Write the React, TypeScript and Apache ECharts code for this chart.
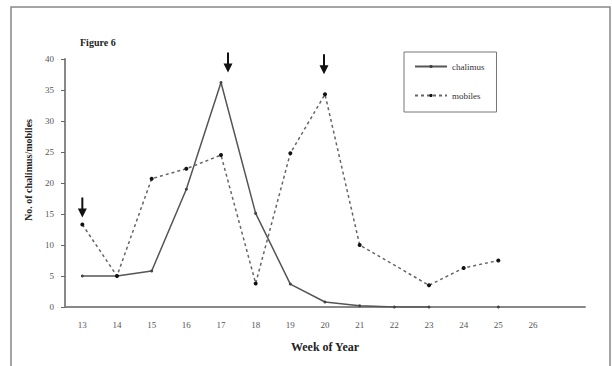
import React, { useEffect, useRef } from "react";
import * as echarts from "echarts";

// Week of year (last slot left blank to extend the axis)
const weeks = ["13", "14", "15", "16", "17", "18", "19", "20", "21", "22", "23", "24", "25", "26", ""];
// Counts per week
const chalimus = [5, 5, 5.8, 19, 36.2, 15.1, 3.7, 0.8, 0.2, 0, 0, null, 0, null, null];
const mobiles = [13.3, 5, 20.7, 22.3, 24.5, 3.8, 24.8, 34.3, 10, null, 3.5, 6.3, 7.5, null, null];
// Peaks marked with arrows: [week, series, dx, dy]
const arrowMarks: [string, "chalimus" | "mobiles", number, number][] = [
  ["13", "mobiles", 0, -17],
  ["17", "chalimus", 7, -20],
  ["20", "mobiles", -1, -30],
];

const FONT = "'Liberation Serif', 'Times New Roman', serif";
const ARROW = "path://M3,0 L5,0 L5,11 L8.5,11 L4,20 L-0.5,11 L3,11 Z";

function arrowsFor(name: "chalimus" | "mobiles") {
  const src = name === "chalimus" ? chalimus : mobiles;
  return arrowMarks
    .filter((a) => a[1] === name)
    .map(([wk, , dx, dy]) => ({
      coord: [wk, src[weeks.indexOf(wk)]],
      symbol: ARROW,
      symbolSize: [9, 20],
      symbolOffset: [dx, dy],
      itemStyle: { color: "#111" },
      label: { show: false },
    }));
}

export default function App() {
  const ref = useRef<HTMLDivElement>(null);
  useEffect(() => {
    if (!ref.current) return;
    const chart = echarts.init(ref.current, null, { renderer: "svg" });
    chart.setOption({
      animation: false,
      backgroundColor: "#fff",
      textStyle: { fontFamily: FONT },
      title: {
        text: "Figure 6",
        left: 75,
        top: 32,
        textStyle: { fontFamily: FONT, fontSize: 10, fontWeight: "bold", color: "#222" },
      },
      legend: {
        orient: "vertical",
        left: 404,
        top: 52,
        padding: [10, 12, 12, 10],
        itemWidth: 32,
        itemHeight: 4,
        itemGap: 20,
        borderColor: "#777",
        borderWidth: 1,
        textStyle: { fontFamily: FONT, fontSize: 9, color: "#333" },
        data: ["chalimus", "mobiles"],
      },
      grid: { left: 65, top: 59, right: 27, bottom: 59 },
      xAxis: {
        type: "category",
        data: weeks,
        boundaryGap: true,
        name: "Week of Year",
        nameLocation: "middle",
        nameGap: 34,
        nameTextStyle: { fontFamily: FONT, fontSize: 12, fontWeight: "bold", color: "#222" },
        axisLine: { lineStyle: { color: "#888", width: 2 } },
        axisTick: { length: 4, lineStyle: { color: "#666", width: 1 } },
        axisLabel: { fontFamily: FONT, fontSize: 9, color: "#555", margin: 13 },
      },
      yAxis: {
        type: "value",
        min: 0,
        max: 40,
        interval: 5,
        splitLine: { show: false },
        axisLine: { show: true, lineStyle: { color: "#888", width: 2 } },
        axisTick: { show: true, length: 4, lineStyle: { color: "#666", width: 1 } },
        axisLabel: { fontFamily: FONT, fontSize: 9, color: "#555", margin: 11 },
      },
      graphic: [
        {
          type: "polyline",
          shape: { points: [[11, 366], [11, 7], [610, 7], [610, 366]] },
          style: { fill: "none", stroke: "#888", lineWidth: 1.5 },
          silent: true,
        },
        {
          type: "text",
          x: 28,
          y: 170,
          rotation: Math.PI / 2,
          style: {
            text: "No. of chalimus/mobiles",
            fontFamily: FONT,
            fontSize: 10,
            fontWeight: "bold",
            fill: "#222",
            textAlign: "center",
            textVerticalAlign: "middle",
          },
        },
      ],
      series: [
        {
          name: "chalimus",
          type: "line",
          data: chalimus,
          connectNulls: false,
          symbol: "circle",
          symbolSize: 3,
          itemStyle: { color: "#444" },
          lineStyle: { color: "#555", width: 1.5, type: "solid" },
          markPoint: { data: arrowsFor("chalimus") },
        },
        {
          name: "mobiles",
          type: "line",
          data: mobiles,
          connectNulls: true,
          symbol: "circle",
          symbolSize: 4,
          itemStyle: { color: "#111" },
          lineStyle: { color: "#666", width: 1.5, type: [3, 3] },
          markPoint: { data: arrowsFor("mobiles") },
        },
      ],
    });
    return () => chart.dispose();
  }, []);
  return (
    <div
      ref={ref}
      style={{ position: "absolute", left: 0, top: 0, width: 612, height: 366 }}
    />
  );
}
